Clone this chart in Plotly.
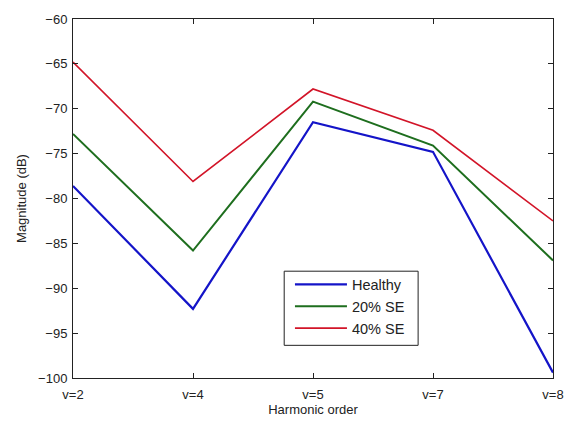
import plotly.graph_objects as go

harmonics = ["v=2", "v=4", "v=5", "v=7", "v=8"]
healthy = [-78.6, -92.3, -71.5, -74.8, -99.4]
se_20 = [-72.8, -85.8, -69.2, -74.1, -86.9]
se_40 = [-64.8, -78.1, -67.8, -72.4, -82.5]
y_ticks = [-100, -95, -90, -85, -80, -75, -70, -65, -60]

series = [
    ("Healthy", healthy, "#1414c8", 2.2),
    ("20% SE", se_20, "#1e6e1e", 2.0),
    ("40% SE", se_40, "#d21428", 1.6),
]

FONT = "Liberation Sans, Arial, sans-serif"
INK = "#222222"

fig = go.Figure()
for name, vals, color, width in series:
    fig.add_trace(go.Scatter(
        x=harmonics, y=vals, mode="lines", name=name,
        line=dict(color=color, width=width),
    ))

axis_common = dict(
    showline=True, linecolor=INK, linewidth=1, mirror="ticks",
    ticks="inside", ticklen=5, tickcolor=INK,
    showgrid=False, zeroline=False,
    tickfont=dict(family=FONT, size=13, color=INK),
    title_font=dict(family=FONT, size=13, color=INK),
)

fig.update_xaxes(
    **axis_common, type="category", range=[0, 4],
    ticklabelstandoff=4,
    title_text="Harmonic order", title_standoff=2,
)
fig.update_yaxes(
    **axis_common, range=[-100, -60], tickvals=y_ticks,
    ticklabelstandoff=2,
    title_text="Magnitude (dB)", title_standoff=8,
)

# Framed white box behind the legend entries
fig.add_shape(
    type="rect", xref="paper", yref="paper",
    x0=0.440, x1=0.719, y0=0.091, y1=0.2975,
    fillcolor="white", line=dict(color=INK, width=1), layer="above",
)

fig.update_layout(
    width=576, height=425,
    margin=dict(l=73, r=12, t=15, b=47),
    paper_bgcolor="white", plot_bgcolor="white",
    showlegend=True,
    legend=dict(
        x=0.452, y=0.305, xanchor="left", yanchor="top",
        bgcolor="rgba(0,0,0,0)", borderwidth=0,
        itemwidth=52, tracegroupgap=0,
        font=dict(family=FONT, size=14.5, color=INK),
    ),
)

fig.write_html("out.html")
